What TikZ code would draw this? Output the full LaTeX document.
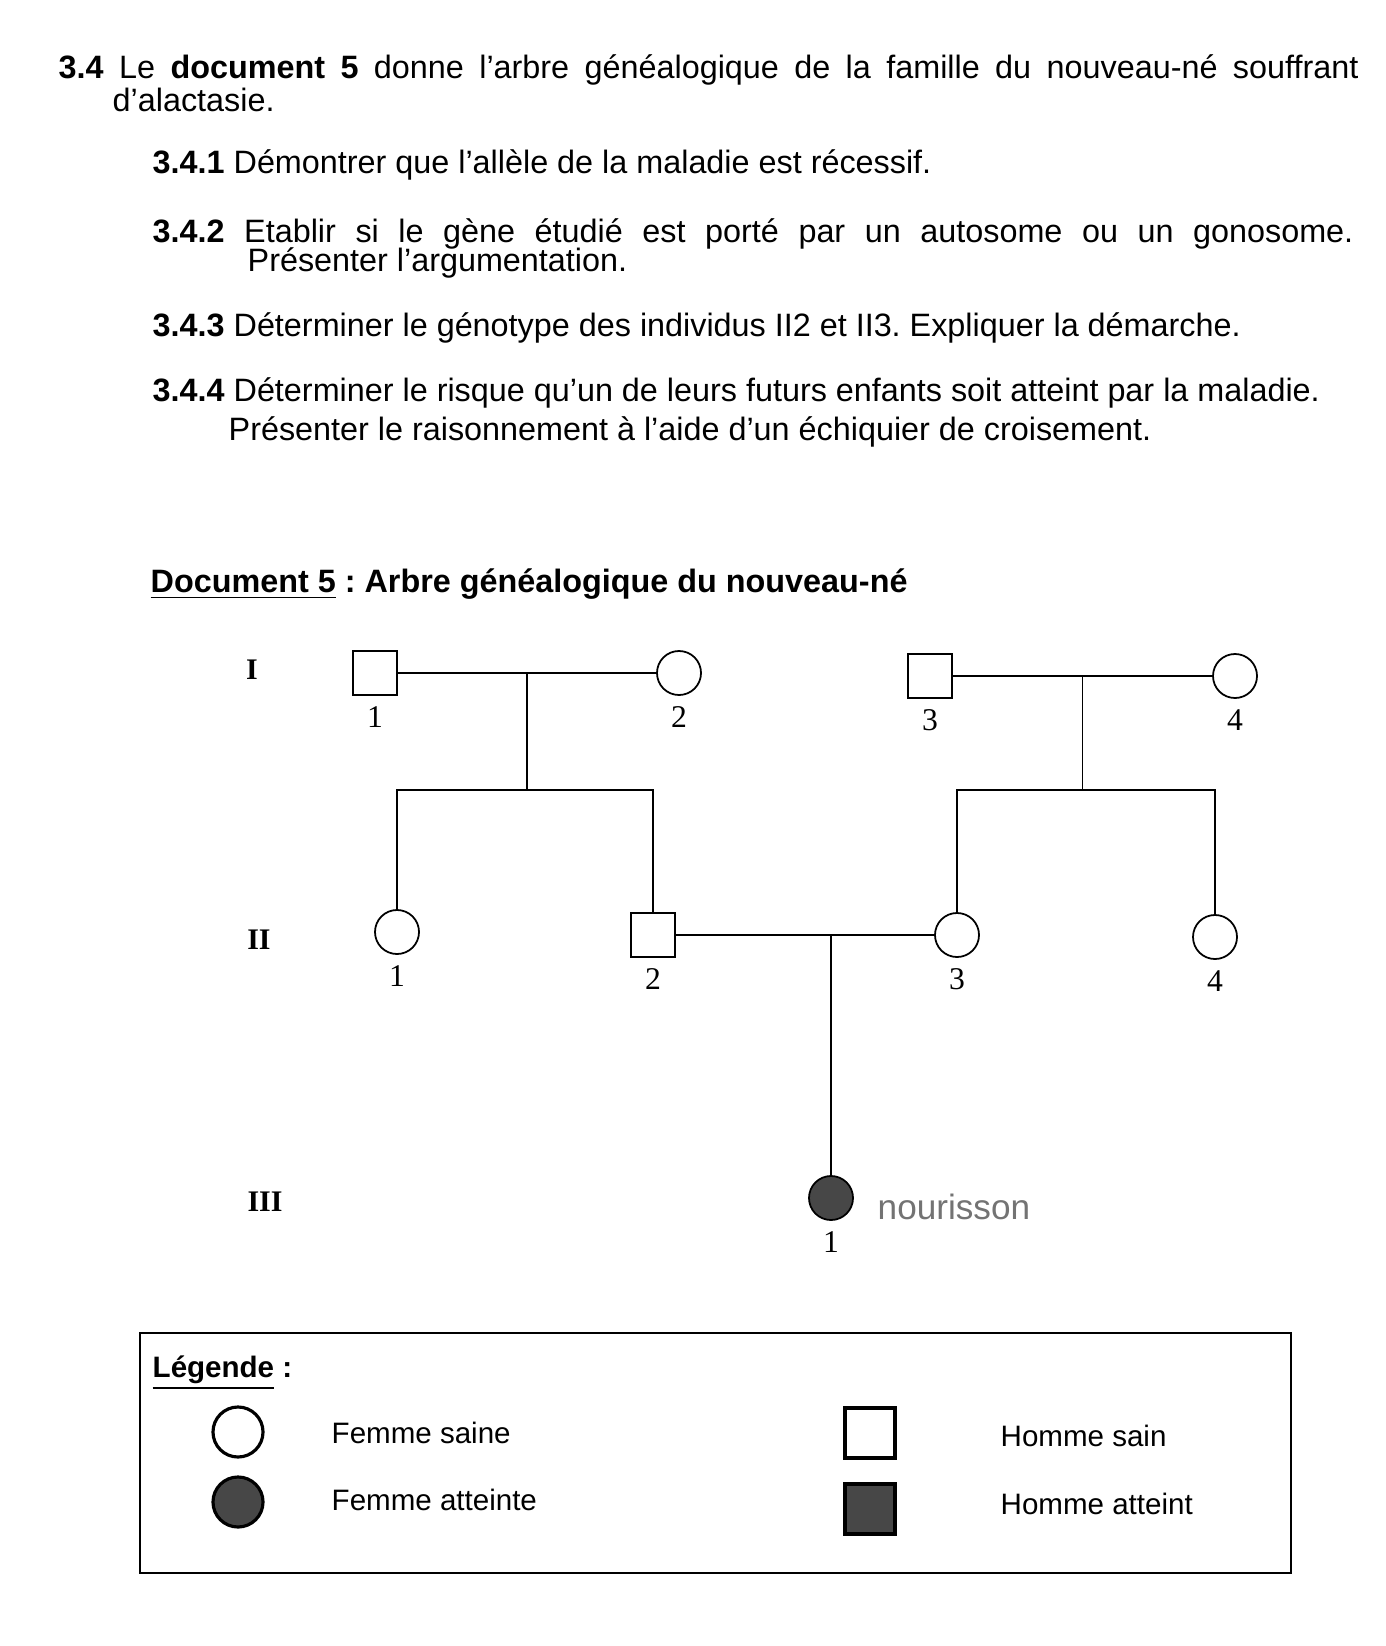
\documentclass[tikz,border=0pt]{standalone}
\usepackage{fontspec}
\setmainfont{Liberation Sans}
\newfontfamily\pedfont{Liberation Serif}
\usetikzlibrary{calc}
\frenchspacing

\tikzset{
  male/.style={draw, rectangle, minimum size=4.4mm, inner sep=0, line width=0.5pt},
  female/.style={draw, circle, minimum size=4.4mm, inner sep=0, line width=0.5pt},
  ill/.style={fill=black!72},
  num/.style={inner sep=0, font=\pedfont\fontsize{9}{10}\selectfont},
  gen/.style={inner sep=0, font=\pedfont\bfseries\fontsize{8.5}{10}\selectfont},
  txt/.style={anchor=base west, inner sep=0, font=\fontsize{9.2}{11}\selectfont},
  legtxt/.style={anchor=base west, inner sep=0, font=\fontsize{8.4}{10}\selectfont},
  lmale/.style={male, minimum size=5mm, line width=0.9pt},
  lfemale/.style={female, minimum size=5mm, line width=0.9pt}
}

\begin{document}
\begin{tikzpicture}[x=0.01cm, y=-0.01cm, label distance=1mm]
  \useasboundingbox (0,0) rectangle (1386,1646);

  \node[txt] (q0) at (58,79) {\makebox[12.99cm][s]{\textbf{3.4} Le \textbf{document 5} donne l'arbre généalogique de la famille du nouveau-né souffrant}};
  \node[txt] (q0b) at (112,112) {d'alactasie.};
  \node[txt] (q1) at (152,174) {\textbf{3.4.1} Démontrer que l'allèle de la maladie est récessif.};
  \node[txt] (q2) at (152,243) {\makebox[12cm][s]{\textbf{3.4.2} Etablir si le gène étudié est porté par un autosome ou un gonosome.}};
  \node[txt] (q2b) at (247,272) {Présenter l'argumentation.};
  \node[txt] (q3) at (152,337) {\textbf{3.4.3} Déterminer le génotype des individus II2 et II3. Expliquer la démarche.};
  \node[txt] (q4) at (152,402) {\textbf{3.4.4} Déterminer le risque qu'un de leurs futurs enfants soit atteint par la maladie.};
  \node[txt] (q4b) at (228,440) {Présenter le raisonnement à l'aide d'un échiquier de croisement.};

  \node[txt, font=\bfseries\fontsize{9.2}{11}\selectfont] (doc) at (150,592) {\underline{Document 5} : Arbre généalogique du nouveau-né};

  \node[gen] (gI) at (252,670) {I};
  \node[gen] (gII) at (259,940) {II};
  \node[gen] (gIII) at (265,1202) {III};

  \node[male, label={[num]below:1}] (I1) at (375,673) {};
  \node[female, label={[num]below:2}] (I2) at (679,673) {};
  \node[male, label={[num]below:3}] (I3) at (930,676) {};
  \node[female, label={[num]below:4}] (I4) at (1235,676) {};

  \node[female, label={[num]below:1}] (II1) at (397,932) {};
  \node[male, label={[num]below:2}] (II2) at (653,935) {};
  \node[female, label={[num]below:3}] (II3) at (957,935) {};
  \node[female, label={[num]below:4}] (II4) at (1215,937) {};

  \node[female, ill, label={[num]below:1}] (III1) at (831,1198) {};
  \node[anchor=base west, inner sep=0, text=black!55, font=\fontsize{10}{12}\selectfont] (nour) at (877,1219) {nourisson};

  \coordinate (m1) at ($(I1)!.5!(I2)$);
  \coordinate (b1) at ($(m1)+(0,117)$);
  \coordinate (m2) at ($(I3)!.5!(I4)$);
  \coordinate (b2) at ($(m2)+(0,114)$);

  \draw[line width=0.5pt] (I1) -- (I2);
  \draw[line width=0.5pt] (m1) -- (b1);
  \draw[line width=0.5pt] (II1.north) -- (II1 |- b1) -- (II2 |- b1) -- (II2.north);
  \draw[line width=0.5pt] (I3) -- (I4);
  \draw[line width=0.5pt] (m2) -- (b2);
  \draw[line width=0.5pt] (II3.north) -- (II3 |- b2) -- (II4 |- b2) -- (II4.north);
  \draw[line width=0.5pt] (II2) -- (II3);
  \draw[line width=0.5pt] (III1.north) -- (III1 |- II2);

  \draw[line width=0.7pt] (140,1333) rectangle (1291,1573);
  \node[legtxt, font=\bfseries\fontsize{8.4}{10}\selectfont] (leg) at (152,1377) {\underline{Légende} :};
  \node[lfemale] (fs) at (238,1432) {};
  \node[lfemale, ill] (fa) at (238,1502) {};
  \node[lmale] (hs) at (870,1433) {};
  \node[lmale, ill] (ha) at (870,1509) {};
  \node[legtxt] (tfs) at (331,1443) {Femme saine};
  \node[legtxt] (tfa) at (331,1510) {Femme atteinte};
  \node[legtxt] (ths) at (1000,1446) {Homme sain};
  \node[legtxt] (tha) at (1000,1514) {Homme atteint};
\end{tikzpicture}
\end{document}
